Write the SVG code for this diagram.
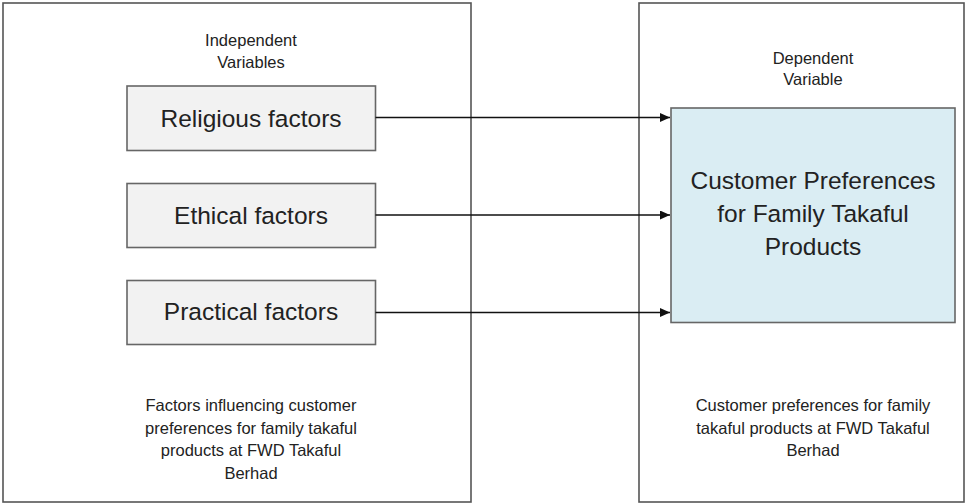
<svg xmlns="http://www.w3.org/2000/svg" width="966" height="504" viewBox="0 0 966 504">
<style>
.frame{fill:#ffffff;stroke:#555555;stroke-width:1.6}
.box{fill:#f2f2f2;stroke:#666666;stroke-width:1.6}
.dep{fill:#daedf3;stroke:#666666;stroke-width:1.6}
text{font-family:"Liberation Sans",Arial,sans-serif;fill:#222222;text-anchor:middle}
.sm{font-size:16.5px}
.lg{font-size:24.5px}
.conn{stroke:#111111;stroke-width:1.3;fill:none}
</style>
<defs>
<marker id="arr" markerWidth="10" markerHeight="9" refX="10" refY="4.5" orient="auto" markerUnits="userSpaceOnUse">
<path d="M0,0 L10,4.5 L0,9 Z" fill="#111111"/>
</marker>
</defs>
<g id="independent-panel">
<rect class="frame" x="3" y="3" width="468" height="499"/>
<text class="sm" x="251" y="45.5">Independent</text>
<text class="sm" x="251" y="67.5">Variables</text>
<text class="sm" x="251" y="411">Factors influencing customer</text>
<text class="sm" x="251" y="433.5">preferences for family takaful</text>
<text class="sm" x="251" y="456">products at FWD Takaful</text>
<text class="sm" x="251" y="478.5">Berhad</text>
</g>
<g id="dependent-panel">
<rect class="frame" x="639" y="3" width="325" height="499"/>
<text class="sm" x="813" y="63.5">Dependent</text>
<text class="sm" x="813" y="85">Variable</text>
<text class="sm" x="813" y="411">Customer preferences for family</text>
<text class="sm" x="813" y="433.5">takaful products at FWD Takaful</text>
<text class="sm" x="813" y="456">Berhad</text>
</g>
<g id="religious">
<rect class="box" x="127" y="86" width="248.5" height="64.5"/>
<text class="lg" x="251" y="127">Religious factors</text>
</g>
<g id="ethical">
<rect class="box" x="127" y="183.5" width="248.5" height="64"/>
<text class="lg" x="251" y="224">Ethical factors</text>
</g>
<g id="practical">
<rect class="box" x="127" y="280.5" width="248.5" height="64"/>
<text class="lg" x="251" y="320">Practical factors</text>
</g>
<g id="customer-preferences">
<rect class="dep" x="671" y="108" width="284" height="214.5"/>
<text class="lg" x="813" y="188.5">Customer Preferences</text>
<text class="lg" x="813" y="222">for Family Takaful</text>
<text class="lg" x="813" y="255">Products</text>
</g>
<g id="connectors">
<line class="conn" x1="375.5" y1="117.5" x2="670" y2="117.5" marker-end="url(#arr)"/>
<line class="conn" x1="375.5" y1="215" x2="670" y2="215" marker-end="url(#arr)"/>
<line class="conn" x1="375.5" y1="312.5" x2="670" y2="312.5" marker-end="url(#arr)"/>
</g>
</svg>
